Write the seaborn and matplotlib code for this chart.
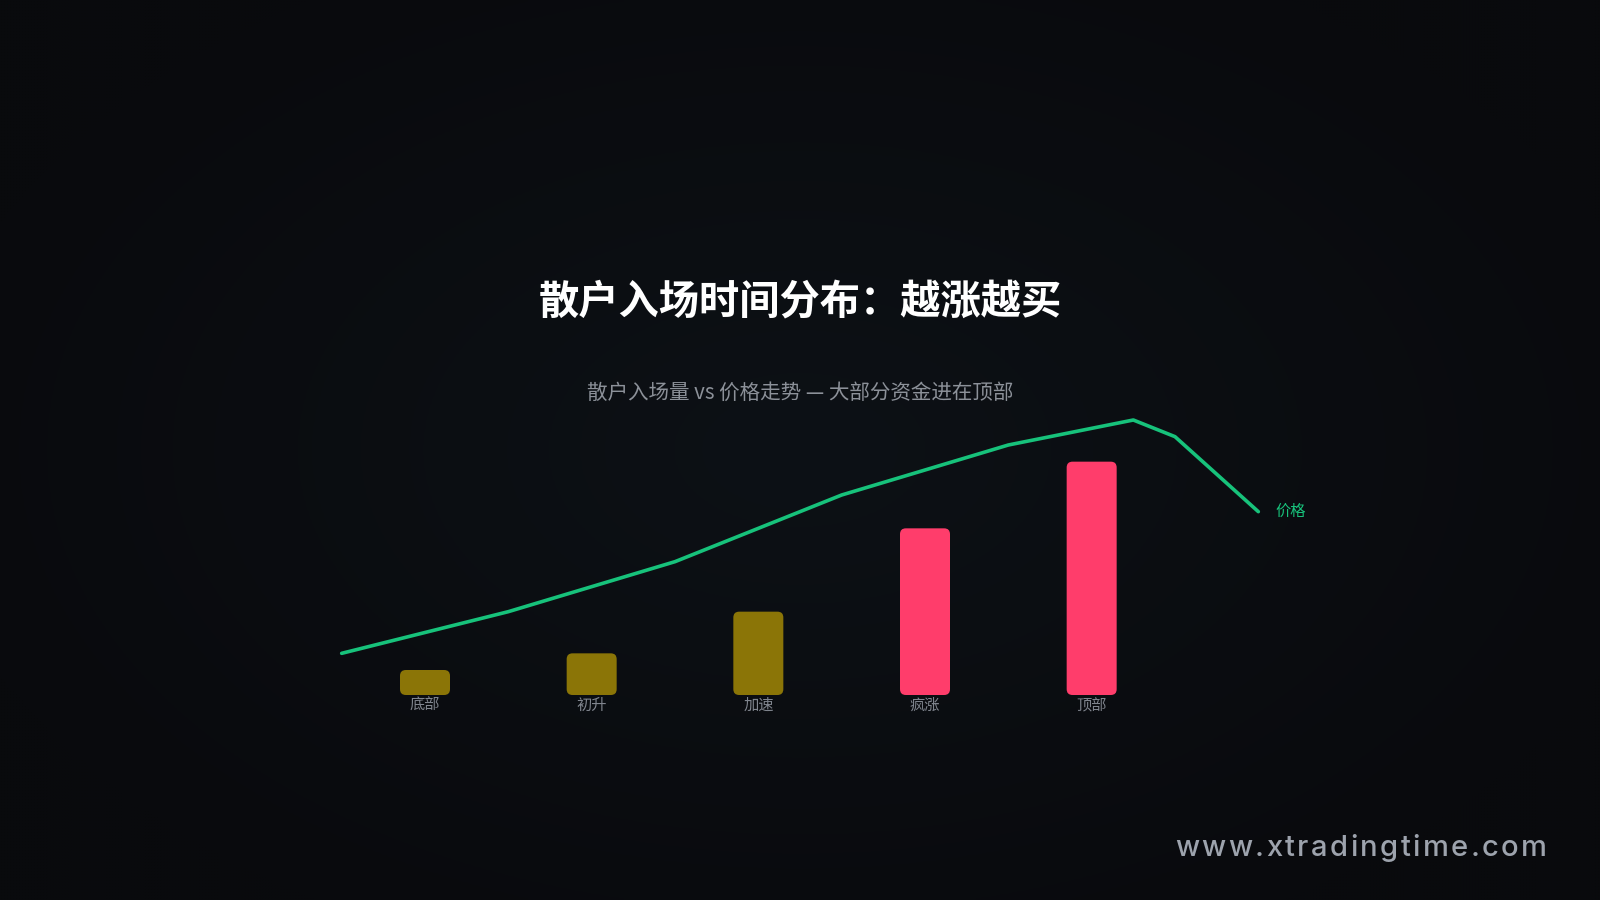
import numpy as np
import matplotlib
matplotlib.use("Agg")
import matplotlib.pyplot as plt
from matplotlib.patches import FancyBboxPatch
import seaborn as sns

# --- data ---
stages = ["底部", "初升", "加速", "疯涨", "顶部"]
retail_inflow = [3, 5, 10, 20, 28]
bar_colors = ["#8b7507", "#8b7507", "#8b7507", "#ff3d6b", "#ff3d6b"]

price_x = [-0.5, 0.5, 1.5, 2.5, 3.5, 4.25, 4.5, 5.0]
price_y = [5, 10, 16, 24, 30, 33, 31, 22]

title = "散户入场时间分布：越涨越买"
subtitle = "散户入场量 vs 价格走势 — 大部分资金进在顶部"
watermark = "www.xtradingtime.com"

sns.set_style("dark")
plt.rcParams["font.family"] = ["Noto Sans CJK SC", "DejaVu Sans"]

W, H = 1600, 900
fig = plt.figure(figsize=(16, 9), dpi=100)

# background: soft radial vignette
bg = fig.add_axes([0, 0, 1, 1])
yy, xx = np.mgrid[0:1:300j, 0:1:533j]
r = np.clip(np.sqrt(((xx - 0.5) / 0.55) ** 2 + ((yy - 0.5) / 0.6) ** 2), 0, 1)
center = np.array([13, 17, 22]) / 255
edge = np.array([9, 10, 13]) / 255
img = center[None, None, :] * (1 - r[..., None]) + edge[None, None, :] * r[..., None]
bg.imshow(img, aspect="auto", extent=[0, 1, 0, 1])
bg.set_axis_off()

# main axes: category i -> px 425 + 166.7 i, value v -> px 695 - 8.333 v
xmin, xmax = -1, 6
ymin, ymax = 0, 36
x_px = (425 + 166.667 * xmin, 425 + 166.667 * xmax)
ax = fig.add_axes([x_px[0] / W, (H - 695) / H, (x_px[1] - x_px[0]) / W, 300 / H])
ax.patch.set_alpha(0)

sns.barplot(x=stages, y=retail_inflow, hue=stages, palette=bar_colors,
            width=0.3, legend=False, ax=ax, saturation=1)

# swap the plain rectangles for rounded ones
aspect = (1166.67 / (xmax - xmin)) / (300 / (ymax - ymin))
for p in list(ax.patches):
    x0, y0, w, h = p.get_x(), p.get_y(), p.get_width(), p.get_height()
    fc = p.get_facecolor()
    p.remove()
    ax.add_patch(FancyBboxPatch((x0, y0), w, h,
                                boxstyle="round,pad=0,rounding_size=0.035",
                                mutation_aspect=aspect, fc=fc, ec="none"))

sns.lineplot(x=price_x, y=price_y, sort=False, color="#17c27b",
             linewidth=2.6, ax=ax)
ax.text(price_x[-1] + 0.1, price_y[-1], "价格", color="#17c27b",
        fontsize=11, va="center", ha="left")

ax.set_xlim(xmin, xmax)
ax.set_ylim(ymin, ymax)
ax.set_xticks(range(len(stages)))
ax.set_xticklabels(stages)
ax.tick_params(axis="x", length=0, pad=1.5, labelsize=11, labelcolor="#80858e")
ax.set_yticks([])
ax.set_xlabel("")
ax.set_ylabel("")
ax.grid(False)
for s in ax.spines.values():
    s.set_visible(False)

fig.text(0.5, 1 - 302 / H, title, ha="center", va="center",
         fontsize=29, fontweight="bold", color="white")
fig.text(0.5, 1 - 393 / H, subtitle, ha="center", va="center",
         fontsize=14.8, color="#8c9199")

# watermark with letter spacing, right edge at x=1547
renderer = fig.canvas.get_renderer()
chars = []
for ch in watermark:
    t = fig.text(0, 1 - 848 / H, ch, fontsize=21, color="#9da3ad",
                 fontweight="medium", family=["Inter", "DejaVu Sans"],
                 va="center", ha="left")
    chars.append((t, t.get_window_extent(renderer).width))
total = 372
gap = (total - sum(w for _, w in chars)) / (len(chars) - 1)
xpos = 1547 - total
for t, w in chars:
    t.set_x(xpos / W)
    xpos += w + gap

fig.savefig("out.png", dpi=100, facecolor="#0b0d11")
